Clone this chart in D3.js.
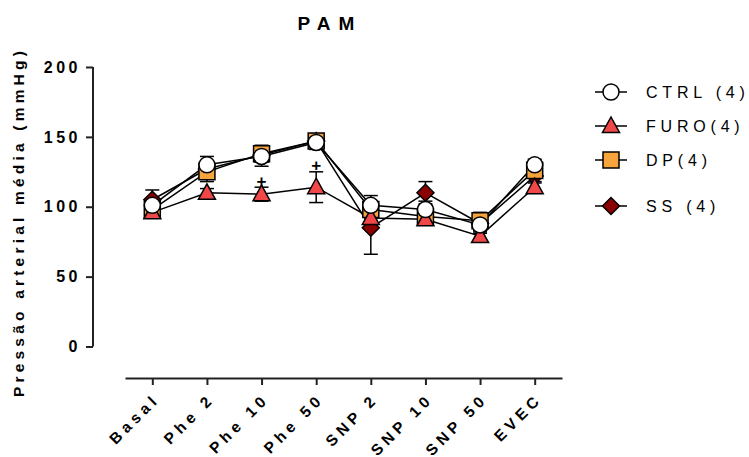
<!DOCTYPE html>
<html>
<head>
<meta charset="utf-8">
<script src="https://cdn.jsdelivr.net/npm/d3@7"></script>
<style>
  html, body { margin: 0; padding: 0; background: #fff; }
  text { font-family: "Liberation Sans", Arial, sans-serif; fill: #000; }
</style>
</head>
<body>
<svg id="chart" width="749" height="457"></svg>
<script>
// Protocol steps
const categories = ["Basal", "Phe 2", "Phe 10", "Phe 50", "SNP 2", "SNP 10", "SNP 50", "EVEC"];

// Mean arterial pressure (mmHg), mean and SEM per group
const ctrlMean = [101, 130, 136, 146, 101, 98, 87, 130];
const ctrlSem  = [5, 6, 7, 5, 7, 6, 6, 4];
const furoMean = [96, 110, 109, 114, 92, 91, 79, 114];
const furoSem  = [3, 3, 5, 11, 3, 3, 3, 4];
const dpMean   = [98, 125, 138, 147, 98, 93, 90, 126];
const dpSem    = [4, 7, 6, 4, 5, 5, 6, 5];
const ssMean   = [105, 127, 137, 147, 85, 110, 88, 122];
const ssSem    = [7, 5, 5, 5, 19, 8, 5, 5];

const yTicks = [0, 50, 100, 150, 200];
const legendLabels = ["CTRL (4)", "FURO(4)", "DP(4)", "SS (4)"];
// Significance marks for the FURO group
const plusSteps = ["Phe 10", "Phe 50"];

const series = [
  { name: legendLabels[0], mean: ctrlMean, sem: ctrlSem, shape: "circle",   fill: "#ffffff" },
  { name: legendLabels[1], mean: furoMean, sem: furoSem, shape: "triangle", fill: "#f04848" },
  { name: legendLabels[2], mean: dpMean,   sem: dpSem,   shape: "square",   fill: "#f8a43c" },
  { name: legendLabels[3], mean: ssMean,   sem: ssSem,   shape: "diamond",  fill: "#8b0000" }
];

const svg = d3.select("#chart");

const x = d3.scalePoint().domain(categories).range([125, 562]).padding(0.5);
const y = d3.scaleLinear().domain([0, 200]).range([346.5, 67]);

// Marker shape generator (centered at 0,0)
function markerPath(shape) {
  switch (shape) {
    case "circle":   return "M8,0A8,8 0 1,1 -8,0A8,8 0 1,1 8,0Z";
    case "triangle": return "M0,-9L8.5,6.5L-8.5,6.5Z";
    case "square":   return "M-8,-8H8V8H-8Z";
    case "diamond":  return "M0,-8.5L8.5,0L0,8.5L-8.5,0Z";
  }
}

// Title
svg.append("text")
  .attr("x", 330).attr("y", 30)
  .attr("text-anchor", "middle")
  .style("font-size", "19px").style("font-weight", "bold")
  .style("letter-spacing", "8px")
  .text("PAM");

// Y axis (offset Prism-style)
const yAxis = svg.append("g").attr("transform", "translate(93,0)")
  .call(d3.axisLeft(y).tickValues(yTicks).tickSize(7).tickPadding(8));
yAxis.select(".domain").attr("d", `M0,${y(0)}V${y(200)}`);
yAxis.selectAll("path,line").attr("stroke", "#222").attr("stroke-width", 2);
yAxis.selectAll("text")
  .style("font-size", "16px").style("font-weight", "bold")
  .style("letter-spacing", "3.5px")
  .style("font-family", "Liberation Sans, Arial, sans-serif")
  .attr("dx", "3px");

// Y axis title
svg.append("text")
  .attr("transform", "translate(24,222) rotate(-90)")
  .attr("text-anchor", "middle")
  .style("font-size", "15.5px").style("font-weight", "bold")
  .style("letter-spacing", "4.2px")
  .text("Pressão arterial média (mmHg)");

// X axis
const xAxis = svg.append("g").attr("transform", "translate(0,378)")
  .call(d3.axisBottom(x).tickSize(7).tickSizeOuter(0));
xAxis.selectAll("path,line").attr("stroke", "#222").attr("stroke-width", 2);
xAxis.selectAll("text")
  .style("font-size", "15.5px").style("font-weight", "bold")
  .style("letter-spacing", "4.5px")
  .style("font-family", "Liberation Sans, Arial, sans-serif")
  .attr("text-anchor", "end")
  .attr("dy", null).attr("y", 0)
  .attr("transform", "translate(8,22) rotate(-45)");

// Lines and error bars for every group (drawn below all markers)
const lineGen = d3.line().x((d, i) => x(categories[i])).y(d => y(d));
const drawOrder = [series[3], series[2], series[1], series[0]];

drawOrder.forEach(s => {
  const g = svg.append("g");
  s.mean.forEach((m, i) => {
    const cx = x(categories[i]);
    const lo = y(m - s.sem[i]), hi = y(m + s.sem[i]);
    g.append("line").attr("x1", cx).attr("x2", cx).attr("y1", lo).attr("y2", hi)
      .attr("stroke", "#000").attr("stroke-width", 1.5);
    [lo, hi].forEach(v => g.append("line")
      .attr("x1", cx - 7).attr("x2", cx + 7).attr("y1", v).attr("y2", v)
      .attr("stroke", "#000").attr("stroke-width", 1.5));
  });
});

drawOrder.forEach(s => {
  svg.append("path").datum(s.mean)
    .attr("d", lineGen)
    .attr("fill", "none").attr("stroke", "#000").attr("stroke-width", 1.5);
});

drawOrder.forEach(s => {
  svg.append("g").selectAll("path").data(s.mean).join("path")
    .attr("transform", (d, i) => `translate(${x(categories[i])},${y(d)})`)
    .attr("d", markerPath(s.shape))
    .attr("fill", s.fill).attr("stroke", "#000").attr("stroke-width", 1.5);
});

// "+" marks above FURO error bars
plusSteps.forEach(step => {
  const i = categories.indexOf(step);
  svg.append("text")
    .attr("x", x(step)).attr("y", y(furoMean[i] + furoSem[i]) - 6)
    .attr("text-anchor", "middle").attr("dominant-baseline", "central")
    .style("font-size", "17px").style("font-weight", "bold")
    .text("+");
});

// Legend
const legendRowY = [92, 126, 160, 206];
series.forEach((s, k) => {
  const g = svg.append("g").attr("transform", `translate(611,${legendRowY[k]})`);
  g.append("line").attr("x1", -16).attr("x2", 16).attr("y1", 0).attr("y2", 0)
    .attr("stroke", "#000").attr("stroke-width", 1.5);
  g.append("path").attr("d", markerPath(s.shape))
    .attr("fill", s.fill).attr("stroke", "#000").attr("stroke-width", 1.5);
  g.append("text").attr("x", 35).attr("y", 0)
    .attr("dominant-baseline", "central")
    .style("font-size", "16px")
    .style("letter-spacing", "4.8px")
    .text(s.name);
});
</script>
</body>
</html>
